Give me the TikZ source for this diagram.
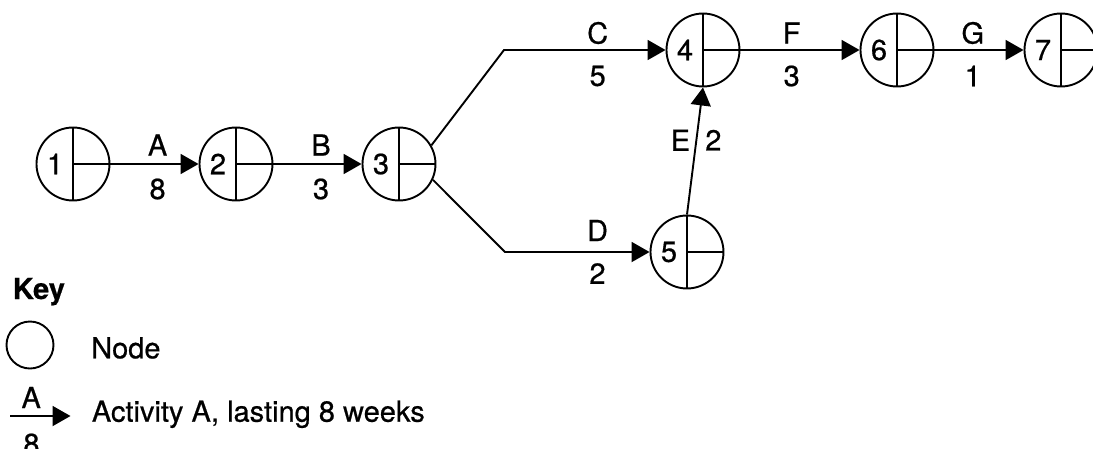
\documentclass[tikz,border=0pt]{standalone}
\usepackage{fontspec}
\setmainfont{TeX Gyre Heros}[RawFeature={embolden=0.6}]
\usetikzlibrary{arrows.meta}
\tikzset{
  evt/.style={circle, draw, minimum size=73pt, inner sep=0pt, line width=1.9pt},
  div/.style={line width=1.9pt},
  num/.style={inner sep=0pt},
  act/.style={line width=1.9pt, -{Triangle[length=18pt,width=20pt]}},
  lab/.style={inner sep=0pt},
  keytext/.style={anchor=base west, inner sep=0pt},
}
\newcommand\evnode[3]{%
  \node[evt] (#1) at (#2) {};
  \draw[div] (#1.north) -- (#1.south) (#1.center) -- (#1.east);
  \node[num] (#1num) at ([xshift=-18pt]#1.center) {#3};}
\begin{document}
\begin{tikzpicture}[x=1pt,y=-1pt,font=\fontsize{29}{35}\selectfont]
\useasboundingbox (0,0) rectangle (1093,448);
\evnode{n1}{73,164}{1}
\evnode{n2}{236,164}{2}
\evnode{n3}{399,164}{3}
\evnode{n4}{703,50}{4}
\evnode{n5}{687,252}{5}
\evnode{n6}{897,50}{6}
\evnode{n7}{1061,50}{7}
\coordinate (cbend) at (504,50);
\coordinate (dbend) at (505,252);
\draw[act] (n1.east) -- (n2.west)
  node[lab, pos=.535, yshift=19pt] (la) {A}
  node[lab, pos=.535, yshift=-25pt] (da) {8};
\draw[act] (n2.east) -- (n3.west)
  node[lab, pos=.54, yshift=19pt] (lb) {B}
  node[lab, pos=.54, yshift=-25pt] (db) {3};
\draw[act] (n3.30) -- (cbend) -- (n4.west)
  node[lab, pos=.58, yshift=17pt] (lc) {C}
  node[lab, pos=.58, yshift=-26pt] (dc) {5};
\draw[act] (n3.-25) -- (dbend) -- (n5.west)
  node[lab, pos=.64, yshift=21.5pt] (ld) {D}
  node[lab, pos=.64, yshift=-21.5pt] (dd) {2};
\draw[act] (n5.north) -- (n4.south)
  node[lab, pos=.585, xshift=-16pt] (le) {E}
  node[lab, pos=.585, xshift=17pt] (de) {2};
\draw[act] (n4.east) -- (n6.west)
  node[lab, pos=.43, yshift=17pt] (lf) {F}
  node[lab, pos=.43, yshift=-26pt] (df) {3};
\draw[act] (n6.east) -- (n7.west)
  node[lab, pos=.43, yshift=17pt] (lg) {G}
  node[lab, pos=.43, yshift=-26pt] (dg) {1};
% key
\node[keytext] (keytitle) at (12.7,299) {\bfseries Key};
\node[evt, minimum size=47pt] (keynode) at (30,345) {};
\node[keytext] (keynodetext) at (91,358.3) {Node};
\coordinate (ka) at (10,416);
\coordinate (kb) at (70.5,416);
\draw[act] (ka) -- (kb)
  node[lab, pos=.35, yshift=18.5pt] (kla) {A}
  node[lab, pos=.355, yshift=-28pt] (kda) {8};
\node[keytext] (keyacttext) at (91.7,421.7) {Activity A, lasting 8 weeks};
\end{tikzpicture}
\end{document}
